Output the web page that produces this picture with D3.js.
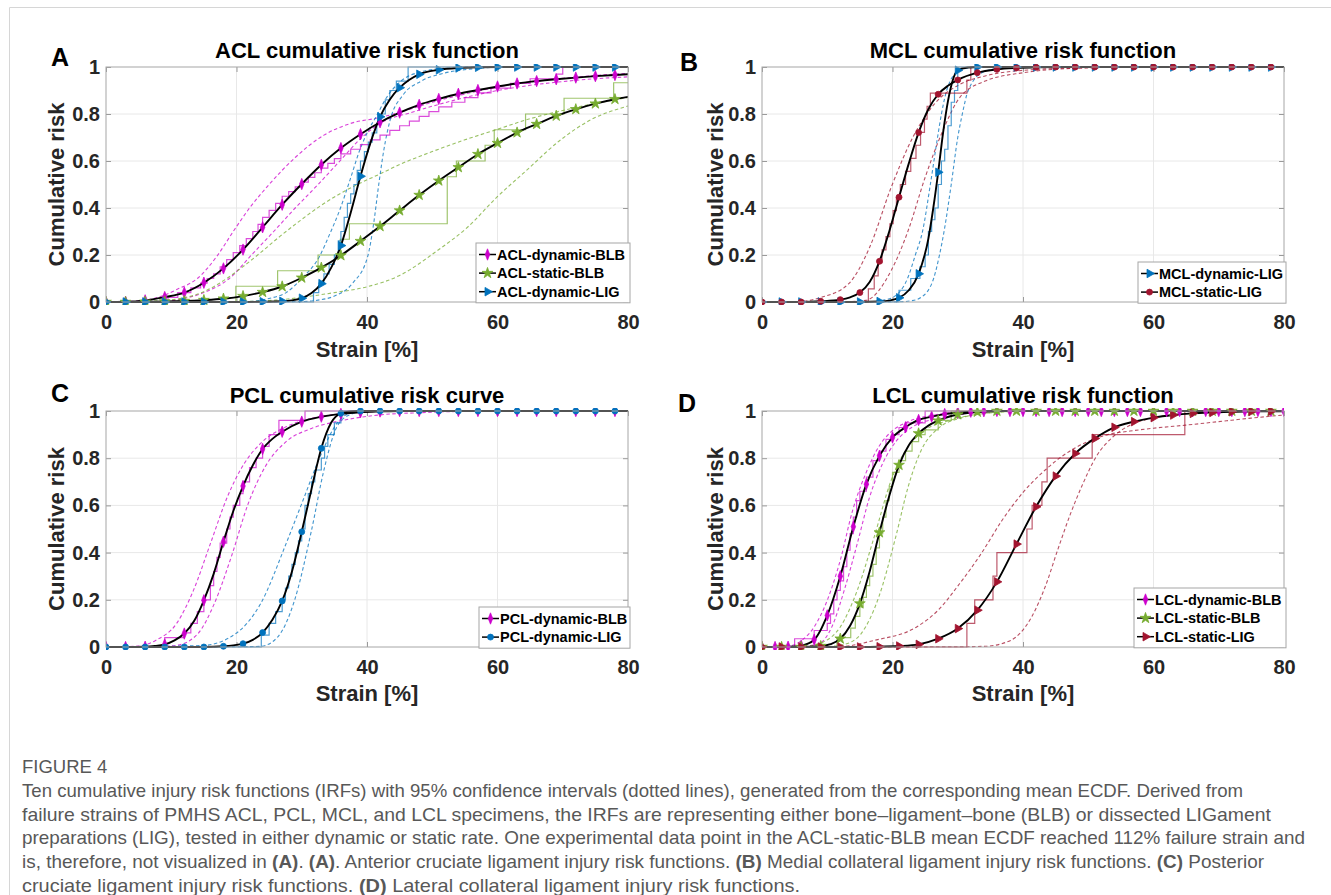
<!DOCTYPE html>
<meta charset="utf-8">
<script src="https://cdn.jsdelivr.net/npm/d3@7/dist/d3.min.js"></script>
<style>
body { margin: 0; background: #fff; }
svg { display: block; }
text { font-family: "Liberation Sans", Arial, sans-serif; }
.tick text { font-weight: bold; font-size: 20px; fill: #262626; }
.tick line { stroke: #9a9a9a; }
.domain { display: none; }
.caption { font-size: 18.5px; fill: #585858; }
</style>
<body>
<script>

// ---- axis ticks ----
var xTicks = [0, 20, 40, 60, 80];
var yTicks = [0, 0.2, 0.4, 0.6, 0.8, 1];
var yTickLabels = ["0", "0.2", "0.4", "0.6", "0.8", "1"];

var panelLetters = ["A", "B", "C", "D"];
var panelTitles = ["ACL cumulative risk function", "MCL cumulative risk function",
                   "PCL cumulative risk curve", "LCL cumulative risk function"];

// ---- A: ACL ----
var aclDynBlbFit = [[0,0],[3,0.001],[6,0.007],[9,0.021],[12,0.04],[15,0.082],[18,0.143],[21,0.223],[24,0.318],[27,0.414],[30,0.502],[33,0.584],[36,0.655],[39,0.714],[42,0.765],[45,0.806],[48,0.839],[51,0.864],[54,0.886],[57,0.902],[60,0.917],[63,0.93],[66,0.94],[69,0.948],[72,0.955],[75,0.961],[78,0.966],[80,0.969]];
var aclDynBlbHi = [[0,0],[4,0.003],[8,0.02],[11,0.055],[14,0.1],[17,0.195],[19.5,0.3],[22,0.4],[25,0.5],[29,0.615],[33.4,0.71],[37.5,0.76],[42,0.785],[46,0.815],[50,0.85],[55,0.885],[60,0.915],[65,0.937],[70,0.952],[75,0.964],[80,0.973]];
var aclDynBlbLo = [[0,0],[8,0.002],[12,0.015],[15,0.04],[18.9,0.1],[22.3,0.2],[25.7,0.3],[29,0.4],[32.5,0.5],[36,0.605],[39.2,0.7],[43,0.775],[46,0.8],[50,0.833],[55,0.87],[60,0.9],[65,0.922],[70,0.938],[75,0.95],[80,0.958]];
var aclDynBlbEcdf = [[0,0],[9.5,0.02],[11,0.04],[13,0.06],[14.5,0.08],[15.5,0.1],[16.5,0.12],[17.5,0.15],[18.5,0.18],[19.5,0.21],[20.5,0.24],[21.5,0.27],[22.5,0.3],[23.3,0.33],[24,0.36],[25,0.39],[26,0.42],[27,0.45],[28,0.47],[29,0.49],[30,0.51],[31,0.53],[32,0.55],[33,0.57],[34,0.59],[35,0.61],[36,0.63],[37.5,0.65],[39,0.67],[40.5,0.69],[42,0.71],[43.5,0.73],[45,0.75],[46.5,0.77],[48,0.79],[49.5,0.81],[51,0.83],[53,0.85],[55,0.87],[57,0.89],[59,0.91],[62,0.93],[65,0.95],[69,0.97],[70,1],[80,1]];

var aclStatBlbFit = [[0,0],[3,0],[6,0.001],[9,0.002],[12,0.004],[15,0.008],[18,0.014],[21,0.025],[24,0.042],[27,0.066],[30,0.103],[33,0.146],[36,0.198],[39,0.259],[42,0.322],[45,0.389],[48,0.455],[51,0.516],[54,0.573],[57,0.629],[60,0.676],[63,0.721],[66,0.757],[69,0.792],[72,0.82],[75,0.844],[78,0.863],[80,0.873]];
var aclStatBlbHi = [[0,0],[8,0.005],[11.8,0.017],[14.4,0.037],[17.4,0.08],[20.5,0.14],[23.6,0.208],[26.6,0.278],[29.7,0.345],[32.7,0.406],[35.8,0.46],[38.9,0.505],[42,0.545],[45,0.585],[50,0.64],[55,0.69],[60,0.735],[65,0.78],[70,0.815],[75,0.845],[80,0.87]];
var aclStatBlbLo = [[0,0],[20,0.002],[26,0.008],[30,0.02],[35,0.04],[39.9,0.064],[45,0.113],[50.8,0.219],[55.4,0.318],[59.9,0.446],[64.4,0.559],[69.5,0.686],[74,0.771],[80,0.834]];
var aclStatBlbEcdf = [[0,0],[19.9,0.067],[26.3,0.133],[32.5,0.2],[35.9,0.267],[37.3,0.333],[52.3,0.533],[53.7,0.6],[58.1,0.667],[59.5,0.733],[64.3,0.8],[70.2,0.867],[77.8,0.933],[80,0.933]];

var aclDynLigFit = [[0,0],[3,0],[6,0],[9,0],[12,0],[15,0],[18,0],[21,0],[24,0.001],[27,0.003],[28.5,0.007],[30,0.016],[31.5,0.038],[33,0.078],[34.5,0.145],[36,0.24],[37.5,0.38],[39,0.535],[40.5,0.675],[42,0.788],[43.5,0.862],[45,0.912],[46.5,0.946],[48,0.969],[51,0.988],[54,0.996],[57,0.999],[60,1],[63,1],[66,1],[69,1],[72,1],[75,1],[78,1],[80,1]];
var aclDynLigHi = [[0,0],[22,0.002],[25,0.015],[27.6,0.04],[30,0.1],[32.7,0.193],[34.3,0.29],[35.8,0.39],[37.4,0.52],[38.9,0.647],[40.2,0.73],[41.4,0.789],[43,0.87],[45,0.935],[48.3,0.98],[52,0.995],[56,1],[80,1]];
var aclDynLigLo = [[0,0],[30,0.002],[32.5,0.008],[34.8,0.023],[37.8,0.08],[40.1,0.193],[41,0.33],[41.8,0.5],[42.6,0.65],[43.5,0.77],[45.5,0.88],[48.3,0.94],[52,0.975],[56.6,0.993],[62,1],[80,1]];
var aclDynLigEcdf = [[0,0],[31.8,0.04],[32.6,0.08],[33.4,0.12],[34.2,0.16],[35,0.2],[35.6,0.26],[36,0.3],[36.5,0.36],[37,0.42],[37.5,0.46],[38,0.5],[38.5,0.56],[39,0.6],[39.6,0.64],[40.2,0.68],[40.8,0.72],[41.5,0.76],[42.2,0.8],[42.8,0.86],[43.5,0.9],[44.5,0.94],[46.3,1],[80,1]];

// ---- B: MCL ----
var mclDynLigFit = [[0,0],[3,0],[6,0],[9,0],[12,0],[15,0],[18,0.002],[19.5,0.006],[21,0.018],[22.5,0.05],[24,0.12],[25.5,0.27],[26.25,0.4],[27,0.552],[27.75,0.72],[28.5,0.855],[29.25,0.945],[30,0.986],[31.5,0.998],[33,1],[36,1],[39,1],[42,1],[45,1],[48,1],[51,1],[54,1],[57,1],[60,1],[63,1],[66,1],[69,1],[72,1],[75,1],[78,1],[80,1]];
var mclDynLigHi = [[0,0],[16,0.001],[19,0.01],[21,0.04],[22.3,0.1],[23.5,0.2],[24.6,0.3],[25.8,0.5],[26.9,0.7],[27.5,0.8],[28.3,0.9],[30,0.98],[32,0.997],[35,1],[80,1]];
var mclDynLigLo = [[0,0],[21,0.001],[23,0.006],[24.4,0.02],[26.3,0.1],[27.2,0.2],[27.9,0.3],[29,0.5],[30,0.7],[30.7,0.8],[31.6,0.9],[34,0.98],[37,0.997],[40,1],[80,1]];
var mclDynLigEcdf = [[0,0],[21,0.05],[22.8,0.1],[24.2,0.15],[25,0.2],[25.5,0.3],[26,0.35],[26.5,0.4],[27,0.5],[27.5,0.6],[28,0.65],[28.5,0.75],[29,0.85],[29.5,0.9],[30,1],[80,1]];

var mclStatLigFit = [[0,0],[3,0],[6,0],[9,0.003],[12,0.01],[13.5,0.02],[15,0.04],[16.5,0.085],[18,0.173],[19.5,0.3],[21,0.446],[22.5,0.59],[24,0.721],[25.5,0.82],[27,0.884],[28.5,0.92],[30,0.945],[33,0.976],[36,0.99],[39,0.996],[42,0.999],[45,1],[48,1],[51,1],[54,1],[57,1],[60,1],[63,1],[66,1],[69,1],[72,1],[75,1],[78,1],[80,1]];
var mclStatLigHi = [[0,0],[6,0.003],[9.1,0.02],[13.3,0.078],[16.5,0.233],[19.8,0.488],[23.1,0.7],[26.4,0.842],[30.3,0.926],[34.2,0.962],[40.1,0.986],[50,0.997],[60,1],[80,1]];
var mclStatLigLo = [[0,0],[12,0.001],[15.9,0.007],[19.8,0.134],[22.4,0.304],[25,0.53],[27.7,0.728],[30.3,0.87],[34.2,0.94],[40.1,0.976],[46.6,0.993],[55,0.999],[60,1],[80,1]];
var mclStatLigEcdf = [[0,0],[16.3,0.056],[17.2,0.111],[17.8,0.167],[18.4,0.222],[19,0.278],[19.6,0.333],[20.1,0.389],[20.6,0.444],[21.2,0.5],[22,0.556],[22.8,0.611],[23.6,0.667],[24.3,0.722],[24.9,0.778],[25.3,0.833],[25.8,0.889],[31.4,0.944],[32,1],[80,1]];

// ---- C: PCL ----
var pclDynBlbFit = [[0,0],[3,0],[6,0.001],[7.5,0.004],[9,0.011],[10.5,0.028],[12,0.057],[13.5,0.11],[15,0.198],[16.5,0.31],[18,0.446],[19.5,0.575],[21,0.682],[22.5,0.77],[24,0.839],[25.5,0.882],[27,0.912],[30,0.955],[33,0.976],[36,0.988],[39,0.995],[42,0.998],[45,1],[48,1],[51,1],[54,1],[57,1],[60,1],[63,1],[66,1],[69,1],[72,1],[75,1],[78,1],[80,1]];
var pclDynBlbHi = [[0,0],[5,0.004],[7.6,0.028],[10.8,0.099],[13.4,0.24],[16,0.438],[18.6,0.636],[21.2,0.778],[23.7,0.863],[27.6,0.933],[31.5,0.969],[36.6,0.99],[45,1],[80,1]];
var pclDynBlbLo = [[0,0],[8,0.002],[10.8,0.007],[14.1,0.057],[16.6,0.184],[19.2,0.382],[21.8,0.608],[24.4,0.764],[27.6,0.87],[31.5,0.926],[36.6,0.962],[41.8,0.983],[48.3,0.993],[60,1],[80,1]];
var pclDynBlbEcdf = [[0,0],[9,0.04],[12,0.06],[13,0.1],[14,0.15],[15,0.2],[16,0.26],[16.5,0.32],[17,0.38],[17.5,0.44],[18.5,0.5],[19,0.55],[19.5,0.6],[20.5,0.65],[21,0.7],[22,0.76],[23,0.8],[24,0.85],[25,0.9],[26.5,0.96],[30.5,1],[80,1]];

var pclDynLigFit = [[0,0],[3,0],[6,0],[9,0],[12,0],[15,0],[18,0.003],[19.5,0.007],[21,0.014],[22.5,0.03],[24,0.061],[25.5,0.115],[27,0.195],[28.5,0.32],[30,0.488],[31.5,0.67],[33,0.842],[34.5,0.95],[36,0.99],[37.5,0.998],[39,1],[42,1],[45,1],[48,1],[51,1],[54,1],[57,1],[60,1],[63,1],[66,1],[69,1],[72,1],[75,1],[78,1],[80,1]];
var pclDynLigHi = [[0,0],[14.7,0.006],[19.9,0.057],[23.7,0.184],[27.6,0.438],[30.2,0.622],[32.8,0.806],[35.4,0.948],[37.3,0.99],[40,1],[80,1]];
var pclDynLigLo = [[0,0],[20,0.001],[23.7,0.003],[26.3,0.042],[28.9,0.198],[31.5,0.495],[33.4,0.75],[35.4,0.934],[37.3,0.983],[40,1],[80,1]];
var pclDynLigEcdf = [[0,0],[23.8,0.05],[25,0.1],[26,0.15],[27,0.2],[27.5,0.25],[28,0.3],[28.5,0.35],[29,0.4],[29.5,0.45],[30,0.5],[30.5,0.6],[31,0.65],[31.5,0.7],[32,0.75],[33,0.8],[33.5,0.85],[34,0.9],[35,0.95],[36,1],[80,1]];

// ---- D: LCL ----
var lclDynBlbFit = [[0,0],[2,0],[4,0.001],[6,0.006],[8,0.031],[10,0.134],[12,0.3],[14,0.51],[16,0.69],[18,0.81],[20,0.888],[22,0.931],[24,0.962],[26,0.976],[28,0.987],[30,0.993],[32,0.997],[34,0.999],[36,1],[38,1],[40,1],[42,1],[44,1],[46,1],[48,1],[50,1],[52,1],[54,1],[56,1],[58,1],[60,1],[62,1],[64,1],[66,1],[68,1],[70,1],[72,1],[74,1],[76,1],[78,1],[80,1]];
var lclDynBlbHi = [[0,0],[4,0.004],[6.1,0.028],[8,0.085],[10,0.198],[12,0.368],[13.9,0.58],[15.9,0.735],[17.9,0.849],[19.8,0.912],[22.4,0.955],[26.4,0.983],[30,0.995],[36,1],[80,1]];
var lclDynBlbLo = [[0,0],[6,0.002],[8.7,0.014],[10.7,0.085],[12.6,0.24],[14.6,0.438],[16.5,0.636],[18.5,0.778],[20.5,0.87],[23.1,0.933],[27,0.969],[31.6,0.99],[38,1],[80,1]];
var lclDynBlbEcdf = [[0,0],[5,0.035],[8,0.07],[10,0.1],[10.5,0.14],[11,0.2],[11.5,0.24],[12,0.28],[12.5,0.34],[13,0.41],[13.5,0.48],[14,0.55],[14.5,0.62],[15,0.66],[16,0.72],[17,0.79],[18,0.83],[19,0.88],[20,0.9],[21,0.93],[22,0.95],[25,1],[80,1]];

var lclStatBlbFit = [[0,0],[3,0],[6,0],[9,0.004],[10.5,0.012],[12,0.035],[13.5,0.09],[15,0.184],[16.5,0.32],[18,0.485],[19.5,0.64],[21,0.771],[22.5,0.855],[24,0.905],[25.5,0.938],[27,0.959],[30,0.985],[33,0.996],[36,1],[39,1],[42,1],[45,1],[48,1],[51,1],[54,1],[57,1],[60,1],[63,1],[66,1],[69,1],[72,1],[75,1],[78,1],[80,1]];
var lclStatBlbHi = [[0,0],[7,0.004],[9.4,0.021],[12,0.085],[14.6,0.24],[17.2,0.467],[19.8,0.707],[22.4,0.849],[25,0.919],[29,0.962],[34.2,0.99],[40,1],[80,1]];
var lclStatBlbLo = [[0,0],[10,0.002],[12.6,0.011],[15.2,0.057],[17.9,0.212],[20.5,0.467],[22.4,0.679],[24.4,0.834],[27,0.926],[30.3,0.969],[35.5,0.993],[42,1],[80,1]];
var lclStatBlbEcdf = [[0,0],[11.5,0.04],[13.6,0.08],[14.3,0.13],[15,0.17],[15.5,0.21],[16,0.26],[16.5,0.3],[17,0.35],[17.5,0.42],[18,0.48],[18.5,0.55],[19,0.62],[19.5,0.68],[20,0.74],[21,0.79],[22,0.83],[23,0.87],[24,0.9],[25,0.92],[27,0.96],[29,1],[80,1]];

var lclStatLigFit = [[0,0],[3,0],[6,0],[9,0],[12,0],[15,0],[18,0.001],[21,0.004],[24,0.011],[27,0.035],[30,0.078],[33,0.156],[36,0.276],[39,0.436],[42,0.594],[45,0.724],[48,0.82],[51,0.884],[54,0.931],[57,0.955],[60,0.972],[63,0.983],[66,0.99],[69,0.994],[72,0.997],[75,0.998],[78,0.999],[80,0.999]];
var lclStatLigHi = [[0,0],[12,0.002],[17.2,0.028],[23.7,0.085],[27,0.156],[30.3,0.269],[33.6,0.396],[36.8,0.537],[40.1,0.658],[43.4,0.75],[46.6,0.82],[49.9,0.87],[53,0.9],[56.4,0.915],[60,0.927],[64.9,0.94],[70,0.955],[75,0.97],[80,0.983]];
var lclStatLigLo = [[0,0],[30,0.001],[34.2,0.003],[38.1,0.028],[40.7,0.099],[43.4,0.255],[45.3,0.41],[47.3,0.566],[49.2,0.693],[51.2,0.806],[53.8,0.891],[56.4,0.94],[59.7,0.969],[64.3,0.987],[70,0.997],[80,1]];
var lclStatLigEcdf = [[0,0],[31.4,0.1],[32.6,0.2],[35.4,0.3],[36,0.4],[40.6,0.5],[41.4,0.6],[42.9,0.7],[43.7,0.8],[50.6,0.9],[64.8,1],[80,1]];

// caption
var captionHead = "FIGURE 4";
var captionLines = [
  [["Ten cumulative injury risk functions (IRFs) with 95% confidence intervals (dotted lines), generated from the corresponding mean ECDF. Derived from", 0]],
  [["failure strains of PMHS ACL, PCL, MCL, and LCL specimens, the IRFs are representing either bone\u2013ligament\u2013bone (BLB) or dissected LIGament", 0]],
  [["preparations (LIG), tested in either dynamic or static rate. One experimental data point in the ACL-static-BLB mean ECDF reached 112% failure strain and", 0]],
  [["is, therefore, not visualized in ", 0], ["(A)", 1], [". ", 0], ["(A)", 1], [". Anterior cruciate ligament injury risk functions. ", 0], ["(B)", 1], [" Medial collateral ligament injury risk functions. ", 0], ["(C)", 1], [" Posterior", 0]],
  [["cruciate ligament injury risk functions. ", 0], ["(D)", 1], [" Lateral collateral ligament injury risk functions.", 0]]
];
// right end of each caption line in the picture
var captionEnds = [1243, 1271, 1305, 1264, 800];

// ---- styles ----
var colors = { mag: "#cc00cc", green: "#77ac30", blue: "#0072bd", red: "#a2142f" };

var sym = {
  diamond: { type: d3.symbolDiamond, size: 34, tf: "scale(0.72,1.05)" },
  star:    { type: d3.symbolStar, size: 36, tf: "" },
  tri:     { type: d3.symbolTriangle, size: 32, tf: "rotate(90)" },
  circle:  { type: d3.symbolCircle, size: 28, tf: "" }
};

var panels = [
  { left: 106, right: 628, top: 67, bottom: 302, letterX: 60, letterY: 66, titleY: 58, xlabY: 357, ylabX: 64,
    legend: { x: 476, y: 243 },
    series: [
      { name: "ACL-dynamic-BLB", c: "mag", m: "diamond", step: 3, fit: aclDynBlbFit, hi: aclDynBlbHi, lo: aclDynBlbLo, ecdf: aclDynBlbEcdf },
      { name: "ACL-static-BLB", c: "green", m: "star", step: 3, fit: aclStatBlbFit, hi: aclStatBlbHi, lo: aclStatBlbLo, ecdf: aclStatBlbEcdf },
      { name: "ACL-dynamic-LIG", c: "blue", m: "tri", step: 3, fit: aclDynLigFit, hi: aclDynLigHi, lo: aclDynLigLo, ecdf: aclDynLigEcdf }
    ] },
  { left: 762, right: 1284, top: 67, bottom: 302, letterX: 689, letterY: 71, titleY: 58, xlabY: 357, ylabX: 723,
    legend: { x: 1138, y: 262 },
    series: [
      { name: "MCL-dynamic-LIG", c: "blue", m: "tri", step: 3, fit: mclDynLigFit, hi: mclDynLigHi, lo: mclDynLigLo, ecdf: mclDynLigEcdf },
      { name: "MCL-static-LIG", c: "red", m: "circle", step: 3, fit: mclStatLigFit, hi: mclStatLigHi, lo: mclStatLigLo, ecdf: mclStatLigEcdf }
    ] },
  { left: 106, right: 628, top: 411, bottom: 647, letterX: 60, letterY: 402, titleY: 403, xlabY: 701, ylabX: 64,
    legend: { x: 479, y: 607 },
    series: [
      { name: "PCL-dynamic-BLB", c: "mag", m: "diamond", step: 3, fit: pclDynBlbFit, hi: pclDynBlbHi, lo: pclDynBlbLo, ecdf: pclDynBlbEcdf },
      { name: "PCL-dynamic-LIG", c: "blue", m: "circle", step: 3, fit: pclDynLigFit, hi: pclDynLigHi, lo: pclDynLigLo, ecdf: pclDynLigEcdf }
    ] },
  { left: 762, right: 1284, top: 411, bottom: 647, letterX: 687, letterY: 412, titleY: 403, xlabY: 701, ylabX: 723,
    legend: { x: 1134, y: 588 },
    series: [
      { name: "LCL-dynamic-BLB", c: "mag", m: "diamond", step: 2, fit: lclDynBlbFit, hi: lclDynBlbHi, lo: lclDynBlbLo, ecdf: lclDynBlbEcdf },
      { name: "LCL-static-BLB", c: "green", m: "star", step: 3, fit: lclStatBlbFit, hi: lclStatBlbHi, lo: lclStatBlbLo, ecdf: lclStatBlbEcdf },
      { name: "LCL-static-LIG", c: "red", m: "tri", step: 3, fit: lclStatLigFit, hi: lclStatLigHi, lo: lclStatLigLo, ecdf: lclStatLigEcdf }
    ] }
];

var width = 1331, height = 895;

var svg = d3.select("body").append("svg")
    .attr("width", width)
    .attr("height", height);

// light page frame
svg.append("line").attr("x1", 9.5).attr("x2", width).attr("y1", 7.5).attr("y2", 7.5).attr("stroke", "#d6d6d6");
svg.append("line").attr("x1", 9.5).attr("x2", 9.5).attr("y1", 7.5).attr("y2", height).attr("stroke", "#d6d6d6");

function drawMarker(g, s, color, px, py) {
  g.append("path")
    .attr("d", d3.symbol().type(sym[s].type).size(sym[s].size)())
    .attr("transform", "translate(" + px + "," + py + ")" + sym[s].tf)
    .attr("fill", color)
    .attr("stroke", color)
    .attr("stroke-width", 0.8);
}

panels.forEach(function(p, pi) {
  var x = d3.scaleLinear().domain([0, 80]).range([p.left, p.right]);
  var y = d3.scaleLinear().domain([0, 1]).range([p.bottom, p.top]);
  var g = svg.append("g");

  g.append("rect")
    .attr("x", p.left).attr("y", p.top)
    .attr("width", p.right - p.left).attr("height", p.bottom - p.top)
    .attr("fill", "#fff");

  // grid
  g.selectAll(".gx").data(xTicks.slice(1, -1)).enter().append("line")
    .attr("x1", function(d) { return x(d); }).attr("x2", function(d) { return x(d); })
    .attr("y1", p.top).attr("y2", p.bottom)
    .attr("stroke", "#e8e8e8");
  g.selectAll(".gy").data(yTicks.slice(1, -1)).enter().append("line")
    .attr("y1", function(d) { return y(d); }).attr("y2", function(d) { return y(d); })
    .attr("x1", p.left).attr("x2", p.right)
    .attr("stroke", "#e8e8e8");

  // axes (ticks inside, like matlab)
  g.append("g").attr("transform", "translate(0," + p.bottom + ")")
    .call(d3.axisBottom(x).tickValues(xTicks).tickSize(-5).tickPadding(13).tickFormat(d3.format("d")));
  g.append("g").attr("transform", "translate(" + p.left + ",0)")
    .call(d3.axisLeft(y).tickValues(yTicks).tickSize(-5).tickPadding(6)
      .tickFormat(function(d, i) { return yTickLabels[i]; }));
  g.append("g").attr("transform", "translate(0," + p.top + ")")
    .call(d3.axisTop(x).tickValues(xTicks).tickSize(-5).tickFormat(""));
  g.append("g").attr("transform", "translate(" + p.right + ",0)")
    .call(d3.axisRight(y).tickValues(yTicks).tickSize(-5).tickFormat(""));

  var clipId = "clip" + pi;
  svg.append("clipPath").attr("id", clipId).append("rect")
    .attr("x", p.left).attr("y", p.top - 3)
    .attr("width", p.right - p.left).attr("height", p.bottom - p.top + 6);

  var plot = g.append("g").attr("clip-path", "url(#" + clipId + ")");

  var smooth = d3.line().x(function(d) { return x(d[0]); }).y(function(d) { return y(d[1]); })
    .curve(d3.curveMonotoneX);
  var steps = d3.line().x(function(d) { return x(d[0]); }).y(function(d) { return y(d[1]); })
    .curve(d3.curveStepAfter);

  // confidence bounds
  p.series.forEach(function(s) {
    [s.hi, s.lo].forEach(function(arr) {
      plot.append("path").attr("d", smooth(arr))
        .attr("fill", "none").attr("stroke", colors[s.c])
        .attr("stroke-opacity", 0.75)
        .attr("stroke-width", 1.1).attr("stroke-dasharray", "3.5,2.5");
    });
  });
  // mean ECDF
  p.series.forEach(function(s) {
    plot.append("path").attr("d", steps(s.ecdf))
      .attr("fill", "none").attr("stroke", colors[s.c])
      .attr("stroke-opacity", 0.7).attr("stroke-width", 1.2);
  });
  // fitted IRF + markers
  p.series.forEach(function(s) {
    plot.append("path").attr("d", smooth(s.fit))
      .attr("fill", "none").attr("stroke", "#000").attr("stroke-width", 1.9);
  });
  p.series.forEach(function(s) {
    s.fit.filter(function(d) { return Math.abs(d[0] % s.step) < 1e-9; })
      .forEach(function(d) { drawMarker(plot, s.m, colors[s.c], x(d[0]), y(d[1])); });
  });

  // frame
  g.append("rect")
    .attr("x", p.left).attr("y", p.top)
    .attr("width", p.right - p.left).attr("height", p.bottom - p.top)
    .attr("fill", "none").attr("stroke", "#a6a6a6");

  // legend
  var rowH = 18.6;
  var lw = p.right + 2 - p.legend.x;
  var lg = g.append("g");
  lg.append("rect").attr("x", p.legend.x).attr("y", p.legend.y)
    .attr("width", lw).attr("height", 4 + rowH * p.series.length)
    .attr("fill", "#fff").attr("stroke", "#a6a6a6");
  p.series.forEach(function(s, i) {
    var cy = p.legend.y + 11.5 + i * rowH;
    lg.append("line").attr("x1", p.legend.x + 3).attr("x2", p.legend.x + 20)
      .attr("y1", cy).attr("y2", cy).attr("stroke", "#000").attr("stroke-width", 1.5);
    drawMarker(lg, s.m, colors[s.c], p.legend.x + 11.5, cy);
    lg.append("text").attr("x", p.legend.x + 21).attr("y", cy + 5)
      .style("font-size", "14.5px").style("font-weight", "bold").attr("fill", "#000")
      .text(s.name);
  });

  // labels
  var cx = (p.left + p.right) / 2;
  g.append("text").attr("x", cx).attr("y", p.titleY).attr("text-anchor", "middle")
    .style("font-size", "22px").style("font-weight", "bold").text(panelTitles[pi]);
  g.append("text").attr("x", p.letterX).attr("y", p.letterY).attr("text-anchor", "middle")
    .style("font-size", "25px").style("font-weight", "bold").text(panelLetters[pi]);
  g.append("text").attr("x", cx).attr("y", p.xlabY).attr("text-anchor", "middle")
    .style("font-size", "22px").style("font-weight", "bold").attr("fill", "#262626").text("Strain [%]");
  g.append("text")
    .attr("transform", "translate(" + p.ylabX + "," + ((p.top + p.bottom) / 2) + ") rotate(-90)")
    .attr("text-anchor", "middle")
    .style("font-size", "22px").style("font-weight", "bold").attr("fill", "#262626").text("Cumulative risk");
});

// caption
var capX = 22;
svg.append("text").attr("class", "caption").attr("x", capX).attr("y", 773)
  .style("font-size", "18.5px").text(captionHead);
captionLines.forEach(function(parts, i) {
  var t = svg.append("text").attr("class", "caption").attr("x", capX).attr("y", 797 + i * 23.7)
    .attr("textLength", captionEnds[i] - capX).attr("lengthAdjust", "spacingAndGlyphs");
  parts.forEach(function(pt) {
    t.append("tspan").style("font-weight", pt[1] ? "bold" : "normal").text(pt[0]);
  });
});

</script>
</body>
</html>
